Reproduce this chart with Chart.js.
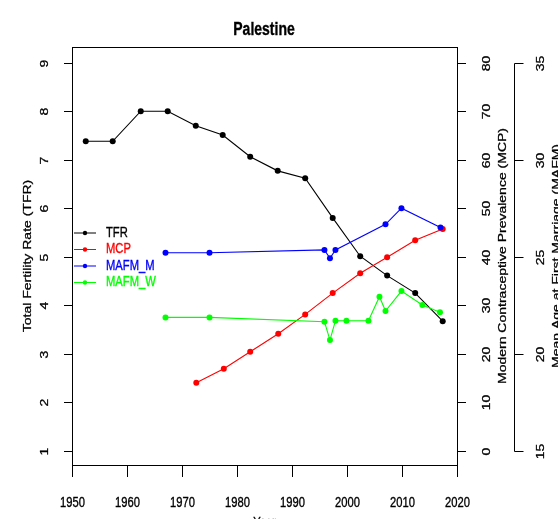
<!DOCTYPE html>
<html>
<head>
<meta charset="utf-8">
<script src="https://cdn.jsdelivr.net/npm/chart.js@4/dist/chart.umd.min.js"></script>
<style>
html,body{margin:0;padding:0;background:#fff;}
#wrap{width:558px;height:519px;position:relative;}
</style>
</head>
<body>
<div id="wrap"><canvas id="c" width="558" height="519"></canvas></div>
<script>
// ---- data ----
const tfrYears = [1952.5, 1957.4, 1962.5, 1967.4, 1972.5, 1977.4, 1982.4, 1987.4, 1992.4, 1997.4, 2002.4, 2007.3, 2012.4, 2017.4];
const tfrValues = [7.38, 7.38, 8.0, 8.0, 7.70, 7.51, 7.06, 6.77, 6.62, 5.80, 5.01, 4.61, 4.25, 3.67];
const mcpYears = [1972.6, 1977.6, 1982.4, 1987.5, 1992.4, 1997.4, 2002.4, 2007.3, 2012.4, 2017.4];
const mcpValues = [14.0, 16.9, 20.4, 24.1, 28.1, 32.5, 36.6, 39.9, 43.4, 45.7];
const mafmMYears = [1967.0, 1975.0, 1995.9, 1996.9, 1997.9, 2007.0, 2009.9, 2017.0];
const mafmMValues = [25.2, 25.2, 25.35, 24.92, 25.35, 26.67, 27.5, 26.5];
const mafmWYears = [1967.0, 1975.0, 1995.9, 1996.9, 1997.9, 1999.9, 2003.9, 2005.9, 2007.0, 2009.9, 2013.7, 2016.9];
const mafmWValues = [21.87, 21.87, 21.65, 20.70, 21.70, 21.70, 21.70, 22.94, 22.20, 23.23, 22.51, 22.14];

const yearTicks = [1950, 1960, 1970, 1980, 1990, 2000, 2010, 2020];
const tfrTicks = [1, 2, 3, 4, 5, 6, 7, 8, 9];
const mcpTicks = [0, 10, 20, 30, 40, 50, 60, 70, 80];
const mafmTicks = [15, 20, 25, 30, 35];

const seriesNames = ['TFR', 'MCP', 'MAFM_M', 'MAFM_W'];
const seriesColors = ['#000000', '#ff0000', '#0000ff', '#00ff00'];
const chartTitle = 'Palestine';
const xTitle = 'Year';
const tfrTitle = 'Total Fertility Rate (TFR)';
const mcpTitle = 'Modern Contraceptive Prevalence (MCP)';
const mafmTitle = 'Mean Age at First Marriage (MAFM)';

// ---- helpers ----
const pts = (xs, ys) => xs.map((x, i) => ({x: x, y: ys[i]}));
const SQ = 0.8; // horizontal squish of the reference image
const FONT = '"Liberation Sans", Arial, sans-serif';

function txt(ctx, s, x, y, rot, font, color, align, base) {
  ctx.save();
  ctx.translate(x, y);
  ctx.scale(SQ, 1);
  ctx.rotate(rot);
  ctx.font = font;
  ctx.fillStyle = color;
  ctx.strokeStyle = color;
  ctx.lineWidth = 0.35;
  ctx.textAlign = align || 'center';
  ctx.textBaseline = base || 'middle';
  ctx.fillText(s, 0, 0);
  ctx.strokeText(s, 0, 0);
  ctx.restore();
}
function line(ctx, x1, y1, x2, y2) {
  ctx.beginPath(); ctx.moveTo(x1, y1); ctx.lineTo(x2, y2); ctx.stroke();
}

const tfrMin = 0.705, tfrMax = 9.324;
const toMcp = v => (v - 1) * 10;
const toMafm = v => 15 + (v - 1) * 2.5;

const decor = {
  id: 'decor',
  afterDraw(chart) {
    const ctx = chart.ctx;
    const a = chart.chartArea;
    const sx = chart.scales.x, sy = chart.scales.y, sm = chart.scales.yMcp, sa = chart.scales.yMafm;
    ctx.save();
    ctx.strokeStyle = '#000';
    ctx.lineWidth = 1;
    // box
    ctx.strokeRect(Math.round(a.left) + 0.5, Math.round(a.top) + 0.5, Math.round(a.right - a.left), Math.round(a.bottom - a.top));
    const f14 = '14px ' + FONT;
    // x axis
    yearTicks.forEach(t => {
      const px = Math.round(sx.getPixelForValue(t)) + 0.5;
      ctx.strokeStyle = '#000'; ctx.lineWidth = 1;
      line(ctx, px, a.bottom, px, a.bottom + 12);
      txt(ctx, String(t), px, 503, 0, f14, '#000');
    });
    txt(ctx, xTitle, (a.left + a.right) / 2, 527, 0, f14, '#000', 'center', 'alphabetic');
    // left TFR axis
    tfrTicks.forEach(t => {
      const py = Math.round(sy.getPixelForValue(t)) + 0.5;
      ctx.strokeStyle = '#000'; ctx.lineWidth = 1;
      line(ctx, a.left - 8, py, a.left, py);
      txt(ctx, String(t), 45, py, -Math.PI / 2, f14, '#000');
    });
    txt(ctx, tfrTitle, 28, (a.top + a.bottom) / 2, -Math.PI / 2, f14, '#000');
    // right MCP axis
    mcpTicks.forEach(t => {
      const py = Math.round(sm.getPixelForValue(t)) + 0.5;
      ctx.strokeStyle = '#000'; ctx.lineWidth = 1;
      line(ctx, a.right, py, a.right + 9, py);
      txt(ctx, String(t), 487, py, -Math.PI / 2, f14, '#000');
    });
    txt(ctx, mcpTitle, 503, (a.top + a.bottom) / 2, -Math.PI / 2, f14, '#000');
    // outer MAFM axis
    const ax = 514.5;
    const yTop = Math.round(sa.getPixelForValue(mafmTicks[mafmTicks.length - 1])) + 0.5;
    const yBot = Math.round(sa.getPixelForValue(mafmTicks[0])) + 0.5;
    ctx.strokeStyle = '#000'; ctx.lineWidth = 1;
    line(ctx, ax, yTop, ax, yBot);
    mafmTicks.forEach(t => {
      const py = Math.round(sa.getPixelForValue(t)) + 0.5;
      ctx.strokeStyle = '#000'; ctx.lineWidth = 1;
      line(ctx, ax, py, ax + 9, py);
      txt(ctx, String(t), 541, py, -Math.PI / 2, f14, '#000');
    });
    txt(ctx, mafmTitle, 557, (a.top + a.bottom) / 2, -Math.PI / 2, f14, '#000');
    // title
    txt(ctx, chartTitle, 264, 30, 0, 'bold 17.5px ' + FONT, '#000');
    // legend
    const ly0 = 233, ldy = 16.5;
    seriesNames.forEach((n, i) => {
      const y = ly0 + i * ldy;
      ctx.strokeStyle = seriesColors[i];
      ctx.lineWidth = 1;
      line(ctx, 74, y, 96, y);
      ctx.fillStyle = seriesColors[i];
      ctx.beginPath(); ctx.arc(85, y, 2.2, 0, Math.PI * 2); ctx.fill();
      txt(ctx, n, 106, y, 0, f14, seriesColors[i], 'left');
    });
    ctx.restore();
  }
};

function ds(label, data, color, axis, order) {
  return {
    label: label, data: data, yAxisID: axis, order: order,
    borderColor: color, backgroundColor: color, pointBackgroundColor: color,
    pointBorderWidth: 0, pointRadius: 3, borderWidth: 1.1, tension: 0, fill: false
  };
}

new Chart(document.getElementById('c'), {
  type: 'line',
  data: {
    datasets: [
      ds(seriesNames[0], pts(tfrYears, tfrValues), seriesColors[0], 'y', 3),
      ds(seriesNames[1], pts(mcpYears, mcpValues), seriesColors[1], 'yMcp', 2),
      ds(seriesNames[2], pts(mafmMYears, mafmMValues), seriesColors[2], 'yMafm', 1),
      ds(seriesNames[3], pts(mafmWYears, mafmWValues), seriesColors[3], 'yMafm', 0)
    ]
  },
  options: {
    responsive: false,
    animation: false,
    layout: {padding: {left: 72, right: 101, top: 47, bottom: 54}},
    plugins: {legend: {display: false}, tooltip: {enabled: false}, title: {display: false}},
    scales: {
      x: {type: 'linear', min: 1950, max: 2020, display: false},
      y: {type: 'linear', min: tfrMin, max: tfrMax, display: false},
      yMcp: {type: 'linear', min: toMcp(tfrMin), max: toMcp(tfrMax), display: false},
      yMafm: {type: 'linear', min: toMafm(tfrMin), max: toMafm(tfrMax), display: false}
    }
  },
  plugins: [decor]
});
</script>
</body>
</html>
